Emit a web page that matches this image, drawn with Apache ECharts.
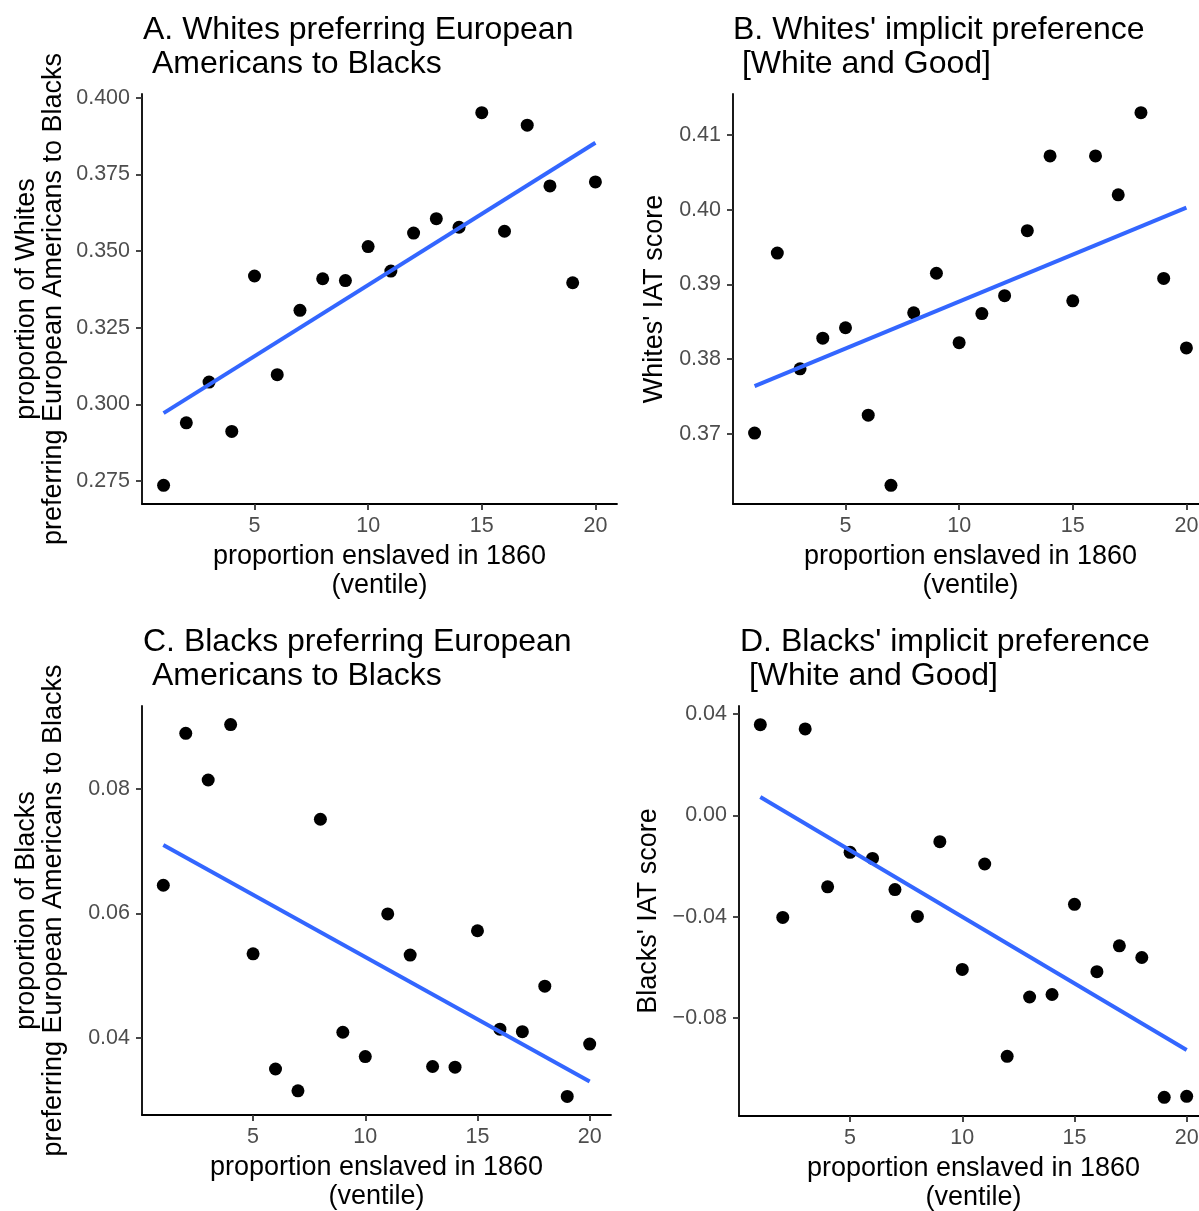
<!DOCTYPE html>
<html>
<head>
<meta charset="utf-8">
<script src="https://cdn.jsdelivr.net/npm/echarts@6/dist/echarts.min.js"></script>
<style>
html,body{margin:0;padding:0;background:#fff;}
#chart{width:1199px;height:1211px;}
</style>
</head>
<body>
<div id="chart"></div>
<script>
// ---- data ----
const ventile = [1,2,3,4,5,6,7,8,9,10,11,12,13,14,15,16,17,18,19,20];
const whitesExplicit = [0.2736,0.2940,0.3073,0.2912,0.3419,0.3097,0.3307,0.3410,0.3404,0.3515,0.3435,0.3559,0.3606,0.3578,0.3952,0.3565,0.3911,0.3713,0.3397,0.3726];
const whitesIAT = [0.3701,0.3942,0.3787,0.3828,0.3842,0.3725,0.3631,0.3862,0.3915,0.3822,0.3861,0.3885,0.3972,0.4072,0.3878,0.4072,0.4020,0.4130,0.3908,0.3815];
const blacksExplicit = [0.0645,0.0889,0.0814,0.0903,0.0535,0.0350,0.0315,0.0751,0.0409,0.0370,0.0599,0.0533,0.0354,0.0353,0.0572,0.0414,0.0410,0.0483,0.0306,0.0390];
const blacksIAT = [0.0358,-0.0403,0.0341,-0.0282,-0.0146,-0.0170,-0.0293,-0.0399,-0.0104,-0.0608,-0.0192,-0.0951,-0.0717,-0.0707,-0.0351,-0.0617,-0.0515,-0.0561,-0.1113,-0.1109];

const xTicks = [5,10,15,20];
const yTicksA = [0.275,0.300,0.325,0.350,0.375,0.400];
const yTicksB = [0.37,0.38,0.39,0.40,0.41];
const yTicksC = [0.04,0.06,0.08];
const yTicksD = [-0.08,-0.04,0.00,0.04];

const titles = [
  'A. Whites preferring European\n Americans to Blacks',
  "B. Whites' implicit preference\n [White and Good]",
  'C. Blacks preferring European\n Americans to Blacks',
  "D. Blacks' implicit preference\n [White and Good]"
];
const xTitle = 'proportion enslaved in 1860\n(ventile)';
const yTitles = [
  'proportion of Whites\npreferring European Americans to Blacks',
  "Whites' IAT score",
  'proportion of Blacks\npreferring European Americans to Blacks',
  "Blacks' IAT score"
];

// ---- helpers ----
const FONT = "'Liberation Sans', Arial, Helvetica, sans-serif";
function ols(x, y) {
  const n = x.length;
  const mx = x.reduce((a,b)=>a+b,0)/n, my = y.reduce((a,b)=>a+b,0)/n;
  let sxy = 0, sxx = 0;
  for (let i=0;i<n;i++){ sxy += (x[i]-mx)*(y[i]-my); sxx += (x[i]-mx)*(x[i]-mx); }
  const b = sxy/sxx; return {b, a: my - b*mx};
}
function expand(arr) {
  const mn = Math.min(...arr), mx = Math.max(...arr), r = mx - mn;
  return [mn - 0.05*r, mx + 0.05*r];
}
function fmtMinus(v, d) {
  const s = Math.abs(v).toFixed(d);
  return (v < -1e-12 ? '\u2212' : '') + s;
}

const panels = [
  {vals: whitesExplicit, ticks: yTicksA, dec: 3, grid: {left:142, top:94, width:475, height:410}, tx:143, ty:13, yGap:75},
  {vals: whitesIAT, ticks: yTicksB, dec: 2, grid: {left:733, top:94, width:475, height:410}, tx:733, ty:13, yGap:65},
  {vals: blacksExplicit, ticks: yTicksC, dec: 2, grid: {left:142, top:706, width:469, height:409}, tx:143, ty:625, yGap:75},
  {vals: blacksIAT, ticks: yTicksD, dec: 2, grid: {left:739, top:706, width:469, height:410}, tx:740, ty:625, yGap:77}
];

const xr = expand(ventile);
const option = {
  animation: false,
  backgroundColor: '#fff',
  textStyle: {fontFamily: FONT},
  title: [], grid: [], xAxis: [], yAxis: [], series: []
};

panels.forEach((p, i) => {
  option.title.push({
    text: titles[i], left: p.tx, top: p.ty, padding: 0,
    textStyle: {fontFamily: FONT, fontSize: 32, fontWeight: 'normal', color: '#000', lineHeight: 34}
  });
  option.grid.push(Object.assign({containLabel: false, outerBoundsMode: 'none'}, p.grid));
  option.xAxis.push({
    type: 'value', gridIndex: i, min: xr[0], max: xr[1],
    axisLine: {show: true, onZero: false, lineStyle: {color: '#000', width: 1.8}},
    axisTick: {show: true, length: 6, customValues: xTicks, lineStyle: {color: '#333', width: 1.8}},
    axisLabel: {customValues: xTicks, color: '#4D4D4D', fontSize: 21.5, margin: 11, fontFamily: FONT},
    splitLine: {show: false},
    name: xTitle, nameLocation: 'middle', nameGap: 38,
    nameTextStyle: {fontSize: 27, color: '#000', lineHeight: 29, fontFamily: FONT}
  });
  const yr = expand(p.vals);
  option.yAxis.push({
    type: 'value', gridIndex: i, min: yr[0], max: yr[1],
    axisLine: {show: true, onZero: false, lineStyle: {color: '#000', width: 1.8}},
    axisTick: {show: true, length: 6, customValues: p.ticks, lineStyle: {color: '#333', width: 1.8}},
    axisLabel: {customValues: p.ticks, color: '#4D4D4D', fontSize: 21.5, margin: 12, fontFamily: FONT,
      formatter: (v) => fmtMinus(v, p.dec)},
    splitLine: {show: false},
    name: yTitles[i], nameLocation: 'middle', nameRotate: 90, nameGap: p.yGap,
    nameTextStyle: {fontSize: 27, color: '#000', lineHeight: 27, fontFamily: FONT}
  });
  option.series.push({
    type: 'scatter', xAxisIndex: i, yAxisIndex: i, symbol: 'circle', symbolSize: 13,
    itemStyle: {color: '#000', opacity: 1}, z: 2,
    data: ventile.map((v, k) => [v, p.vals[k]])
  });
  const fit = ols(ventile, p.vals);
  const x0 = ventile[0], x1 = ventile[ventile.length-1];
  option.series.push({
    type: 'line', xAxisIndex: i, yAxisIndex: i, symbol: 'none', showSymbol: false, z: 3,
    lineStyle: {color: '#3366FF', width: 4}, silent: true,
    data: [[x0, fit.a + fit.b*x0], [x1, fit.a + fit.b*x1]]
  });
});

const chart = echarts.init(document.getElementById('chart'), null, {renderer: 'canvas'});
chart.setOption(option);
</script>
</body>
</html>
